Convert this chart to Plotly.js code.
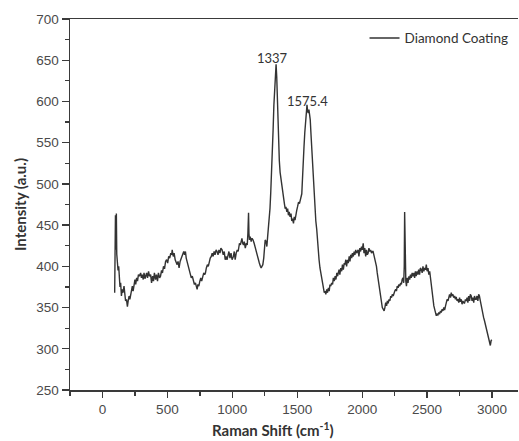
<!DOCTYPE html>
<html>
<head>
<meta charset="utf-8">
<script src="https://cdn.plot.ly/plotly-3.0.1.min.js"></script>
<style>html,body{margin:0;padding:0;background:#fff;}#chart{width:519px;height:441px;}</style>
</head>
<body>
<div id="chart"></div>
<script>
const seriesName = "Diamond Coating";
const ramanShift = [94,97,100,103,107,110,115,120,125,130,135,140,146,152,158,166,172,178,185,192,198,205,211,217,224,230,236,243,250,256,263,270,277,284,294,300,307,314,320,327,332,340,347,355,362,371,378,386,393,400,409,416,424,431,440,447,455,462,470,478,486,494,502,510,518,526,533,537,545,552,560,567,575,582,590,598,606,613,620,626,632,639,645,652,660,668,676,684,692,700,708,716,722,729,735,742,750,757,764,772,780,787,793,800,808,815,823,830,838,845,852,860,867,875,882,890,897,905,912,921,930,938,945,952,959,966,974,982,990,998,1008,1015,1022,1030,1038,1045,1049,1055,1062,1068,1074,1080,1086,1092,1100,1108,1115,1120,1125,1128,1132,1138,1145,1152,1160,1168,1177,1185,1192,1200,1208,1216,1222,1228,1235,1242,1248,1253,1260,1266,1272,1278,1284,1290,1296,1302,1308,1314,1320,1326,1332,1337,1342,1347,1352,1357,1362,1368,1374,1381,1388,1395,1401,1407,1413,1420,1426,1432,1438,1445,1452,1458,1464,1471,1477,1483,1490,1496,1502,1510,1517,1524,1530,1535,1540,1545,1547,1552,1558,1563,1568,1572,1575,1580,1585,1590,1595,1600,1606,1612,1618,1624,1630,1637,1643,1650,1656,1662,1668,1675,1681,1688,1695,1701,1708,1714,1720,1727,1733,1740,1746,1752,1758,1765,1772,1778,1785,1792,1798,1805,1811,1816,1822,1828,1835,1842,1848,1855,1862,1867,1874,1880,1887,1893,1900,1906,1912,1919,1925,1932,1938,1944,1950,1957,1963,1969,1975,1982,1988,1995,2001,2008,2014,2020,2027,2033,2040,2046,2052,2059,2065,2072,2078,2084,2090,2097,2103,2110,2116,2123,2129,2136,2142,2149,2155,2162,2169,2175,2181,2188,2194,2200,2207,2213,2220,2226,2232,2239,2245,2251,2258,2264,2270,2277,2283,2290,2296,2302,2308,2314,2320,2324,2327,2330,2333,2336,2341,2347,2353,2360,2366,2372,2378,2385,2391,2399,2404,2410,2416,2423,2429,2435,2442,2448,2456,2462,2468,2475,2481,2488,2494,2500,2507,2513,2520,2526,2533,2540,2546,2552,2558,2565,2571,2577,2583,2590,2596,2603,2609,2616,2622,2629,2635,2642,2648,2654,2661,2667,2673,2680,2686,2692,2699,2705,2712,2718,2724,2731,2737,2744,2750,2756,2763,2769,2776,2782,2788,2795,2801,2808,2814,2820,2827,2833,2840,2846,2852,2859,2865,2872,2878,2884,2891,2897,2903,2910,2916,2922,2929,2935,2942,2948,2955,2961,2967,2974,2980,2987,2993,2998];
const intensity = [368,440,462,420,464,415,408,395,400,385,375,380,364,372,368,376,362,358,360,351,358,364,360,366,372,376,370,380,384,378,386,382,390,388,392,386,390,384,392,385,388,392,386,394,388,390,380,388,382,392,384,390,382,392,386,388,395,392,400,397,406,408,404,412,410,416,414,420,412,416,408,404,402,406,398,406,410,414,416,418,414,418,410,406,402,398,392,386,388,382,378,380,374,372,378,376,382,386,382,388,392,390,392,398,402,400,408,410,412,416,412,418,414,420,418,414,420,416,422,420,414,418,408,412,408,414,418,410,416,408,412,418,408,416,420,418,424,428,426,432,434,428,426,430,422,428,426,440,465,440,432,436,430,434,432,428,422,416,412,408,404,400,398,400,402,410,420,432,430,424,436,446,455,470,490,510,535,565,595,620,640,645,630,600,568,545,528,514,506,500,490,480,476,470,472,466,470,462,466,460,464,455,458,452,460,456,466,468,472,478,476,482,484,488,505,530,520,545,562,575,585,592,596,588,586,590,584,578,560,540,525,510,490,470,455,445,430,418,408,398,392,384,378,372,368,370,366,372,368,374,370,378,376,380,378,386,382,388,384,392,388,392,396,390,398,394,402,396,404,402,408,400,408,404,412,406,414,410,416,412,418,414,420,416,418,420,412,422,418,424,420,428,416,422,412,420,414,416,422,418,420,416,418,418,414,410,405,400,392,384,376,368,360,354,350,348,346,350,356,352,358,355,360,358,364,362,366,364,368,370,372,370,376,374,378,376,380,378,384,386,380,400,466,430,390,382,376,386,380,388,384,390,386,392,388,392,386,394,388,394,390,396,390,398,396,392,400,394,398,396,402,394,398,390,394,385,372,364,358,352,348,345,340,342,341,344,342,346,344,348,346,350,347,352,356,360,358,364,366,362,368,364,366,362,364,360,363,358,360,356,362,357,360,354,358,356,355,360,358,362,356,364,358,366,364,358,362,356,364,360,360,364,358,366,364,358,352,348,343,338,334,330,327,322,316,312,307,304,310,311];
const xTickVals = [0,500,1000,1500,2000,2500,3000];
const yTickVals = [250,300,350,400,450,500,550,600,650,700];
const peakLabels = ["1337","1575.4"];
const peakLabelX = [1313,1580];
const peakLabelY = [653,600];

const axisColor = '#3a3a3a';
const textFamily = 'Lato, Noto Sans, sans-serif';
const tickFont = {family: 'Liberation Sans, Arial, sans-serif', size: 13.5, color: '#4a4a4a'};

const trace = {
  x: ramanShift, y: intensity, type: 'scatter', mode: 'lines', name: seriesName,
  line: {color: '#333333', width: 1.4}
};

const annotations = peakLabels.map((t, i) => ({
  text: t, x: peakLabelX[i], y: peakLabelY[i], xref: 'x', yref: 'y', showarrow: false,
  font: {family: textFamily, size: 13, color: '#333'}
}));

const layout = {
  width: 519, height: 441,
  margin: {l: 70, r: 1, t: 19, b: 51},
  paper_bgcolor: '#fff', plot_bgcolor: '#fff',
  showlegend: true,
  legend: {x: 0.99, y: 0.99, xanchor: 'right', yanchor: 'top', bgcolor: 'rgba(0,0,0,0)',
    font: {family: textFamily, size: 13.5, color: '#333'}},
  xaxis: {
    range: [-250, 3200], tickvals: xTickVals, ticks: 'outside', ticklen: 6, tickwidth: 1.3,
    tickcolor: axisColor, showline: true, linecolor: axisColor, linewidth: 1.5, mirror: true,
    showgrid: false, zeroline: false, tickfont: tickFont,
    minor: {dtick: 500, tick0: 250, ticks: 'outside', ticklen: 4, tickcolor: axisColor, showgrid: false},
    title: {text: '<b>Raman Shift (cm<sup>-1</sup>)</b>' + '&nbsp;'.repeat(11), standoff: 10,
      font: {family: textFamily, size: 15, color: '#333'}}
  },
  yaxis: {
    range: [250, 700], tickvals: yTickVals, ticks: 'outside', ticklen: 7, tickwidth: 1.3,
    tickcolor: axisColor, showline: true, linecolor: axisColor, linewidth: 1.5, mirror: false,
    showgrid: false, zeroline: false, tickfont: tickFont,
    minor: {dtick: 50, tick0: 275, ticks: 'outside', ticklen: 4, tickcolor: axisColor, showgrid: false},
    title: {text: '<b>Intensity (a.u.)</b>', standoff: 6,
      font: {family: textFamily, size: 15, color: '#333'}}
  },
  annotations: annotations
};

Plotly.newPlot('chart', [trace], layout, {displayModeBar: false, staticPlot: true});
</script>
</body>
</html>
